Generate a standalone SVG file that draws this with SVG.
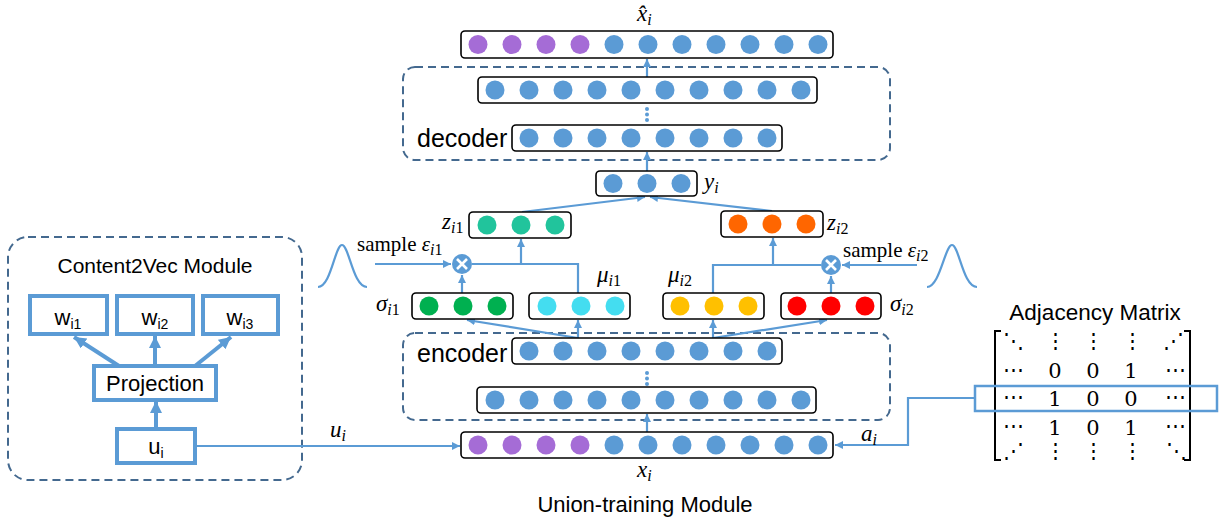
<svg xmlns="http://www.w3.org/2000/svg" width="1225" height="519" viewBox="0 0 1225 519">
<defs>
<style>
.row{fill:#fff;stroke:#000;stroke-width:1.6}
.b{fill:#5B9BD5}.p{fill:#A56CD6}.t{fill:#21C49C}.g{fill:#00B050}.c{fill:#44DDF0}.y{fill:#FFC000}.r{fill:#FF0000}.o{fill:#FF6600}
.dash{fill:none;stroke:#44698F;stroke-width:2;stroke-dasharray:8 5}
.conn{fill:none;stroke:#5B9BD5;stroke-width:2.2}
.thick{fill:none;stroke:#5B9BD5;stroke-width:4}
.cbox{fill:#fff;stroke:#5B9BD5;stroke-width:4}
.sans{font-family:"Liberation Sans",Arial,sans-serif;fill:#000}
.math{font-family:"Liberation Serif","DejaVu Serif",serif;font-style:italic;font-size:23px;fill:#000}
.ser{font-family:"Liberation Serif","DejaVu Serif",serif;font-size:21px;fill:#000}
.mx{font-family:"DejaVu Serif","Liberation Serif",serif;font-size:21px;fill:#000;text-anchor:middle}
.sub{font-size:16px}
.up{font-style:normal}
</style>
<marker id="a" markerUnits="userSpaceOnUse" markerWidth="9" markerHeight="9" refX="8" refY="4" orient="auto"><path d="M0,0 L8,4 L0,8 z" fill="#5B9BD5"/></marker>
<marker id="A" markerUnits="userSpaceOnUse" markerWidth="13" markerHeight="13" refX="12" refY="6" orient="auto"><path d="M0,0 L12,6 L0,12 z" fill="#5B9BD5"/></marker>
</defs>
<rect width="1225" height="519" fill="#fff"/>

<!-- module frames -->
<g id="decoder">
<rect class="dash" x="403" y="67" width="487" height="93" rx="12"/>
<text class="sans" x="417" y="147" font-size="25">decoder</text>
</g>
<g id="encoder">
<rect class="dash" x="403" y="333" width="487" height="87" rx="12"/>
<text class="sans" x="417" y="362" font-size="25">encoder</text>
</g>
<g id="content2vec">
<rect class="dash" x="8" y="237" width="294" height="243" rx="20"/>
<text class="sans" x="155" y="273" font-size="21" text-anchor="middle">Content2Vec Module</text>
</g>

<!-- connectors -->
<g id="connectors">
<line class="conn" x1="647" y1="77" x2="647" y2="59" marker-end="url(#a)"/>
<line class="conn" x1="647" y1="171" x2="647" y2="152" marker-end="url(#a)"/>
<line class="conn" x1="522" y1="212" x2="645" y2="197" marker-end="url(#a)"/>
<line class="conn" x1="772" y1="211" x2="650" y2="197" marker-end="url(#a)"/>
<line class="conn" x1="462" y1="293" x2="462" y2="275" marker-end="url(#a)"/>
<line class="conn" x1="375" y1="264" x2="451" y2="264" marker-end="url(#a)"/>
<path class="conn" d="M472,264 H578 V293"/>
<line class="conn" x1="521" y1="264" x2="521" y2="239" marker-end="url(#a)"/>
<line class="conn" x1="831" y1="293" x2="831" y2="276" marker-end="url(#a)"/>
<line class="conn" x1="917" y1="265" x2="842" y2="265" marker-end="url(#a)"/>
<path class="conn" d="M821,265 H713 V293"/>
<line class="conn" x1="773" y1="265" x2="773" y2="238" marker-end="url(#a)"/>
<line class="conn" x1="578" y1="338" x2="467" y2="320" marker-end="url(#a)"/>
<line class="conn" x1="578" y1="338" x2="578" y2="320" marker-end="url(#a)"/>
<line class="conn" x1="713" y1="338" x2="713" y2="320" marker-end="url(#a)"/>
<line class="conn" x1="713" y1="338" x2="827" y2="320" marker-end="url(#a)"/>
<line class="conn" x1="647" y1="432" x2="647" y2="414" marker-end="url(#a)"/>
<line class="conn" x1="195" y1="446" x2="460" y2="446" marker-end="url(#a)"/>
<path class="conn" d="M975,398 H908 V445 H835" marker-end="url(#a)"/>
<line class="thick" x1="119" y1="366" x2="74" y2="337" marker-end="url(#A)"/>
<line class="thick" x1="155" y1="366" x2="155" y2="336" marker-end="url(#A)"/>
<line class="thick" x1="195" y1="366" x2="231" y2="337" marker-end="url(#A)"/>
<line class="thick" x1="156" y1="429" x2="156" y2="401" marker-end="url(#A)"/>
<g fill="#5B9BD5">
<circle cx="647" cy="109" r="2"/><circle cx="647" cy="114.5" r="2"/><circle cx="647" cy="120" r="2"/>
<circle cx="647" cy="373" r="2"/><circle cx="647" cy="378.5" r="2"/><circle cx="647" cy="384" r="2"/>
</g>
<path class="conn" d="M318,287 C331,287 335,245 342,245 C349,245 353,287 367,287"/>
<path class="conn" d="M927,287 C940,287 945,245 952,245 C959,245 963,287 977,287"/>
</g>

<!-- rows -->
<g id="xhat">
<rect class="row" x="461" y="31" width="372" height="27" rx="4"/>
<circle class="p" cx="478" cy="44.5" r="9.5"/><circle class="p" cx="512" cy="44.5" r="9.5"/><circle class="p" cx="546" cy="44.5" r="9.5"/><circle class="p" cx="580" cy="44.5" r="9.5"/>
<circle class="b" cx="614" cy="44.5" r="9.5"/><circle class="b" cx="648" cy="44.5" r="9.5"/><circle class="b" cx="682" cy="44.5" r="9.5"/><circle class="b" cx="716" cy="44.5" r="9.5"/><circle class="b" cx="750" cy="44.5" r="9.5"/><circle class="b" cx="784" cy="44.5" r="9.5"/><circle class="b" cx="818" cy="44.5" r="9.5"/>
<text class="math" x="637" y="21">x̂<tspan class="sub" dy="4">i</tspan></text>
</g>
<g id="dec1">
<rect class="row" x="478" y="77" width="339" height="26" rx="4"/>
<circle class="b" cx="495" cy="90" r="9.5"/><circle class="b" cx="529" cy="90" r="9.5"/><circle class="b" cx="563" cy="90" r="9.5"/><circle class="b" cx="597" cy="90" r="9.5"/><circle class="b" cx="631" cy="90" r="9.5"/><circle class="b" cx="665" cy="90" r="9.5"/><circle class="b" cx="699" cy="90" r="9.5"/><circle class="b" cx="733" cy="90" r="9.5"/><circle class="b" cx="767" cy="90" r="9.5"/><circle class="b" cx="801" cy="90" r="9.5"/>
</g>
<g id="dec2">
<rect class="row" x="512" y="125" width="270" height="26" rx="4"/>
<circle class="b" cx="529" cy="138" r="9.5"/><circle class="b" cx="563" cy="138" r="9.5"/><circle class="b" cx="597" cy="138" r="9.5"/><circle class="b" cx="631" cy="138" r="9.5"/><circle class="b" cx="665" cy="138" r="9.5"/><circle class="b" cx="699" cy="138" r="9.5"/><circle class="b" cx="733" cy="138" r="9.5"/><circle class="b" cx="767" cy="138" r="9.5"/>
</g>
<g id="yi">
<rect class="row" x="596" y="171" width="101" height="25" rx="4"/>
<circle class="b" cx="613" cy="183.5" r="9.5"/><circle class="b" cx="647" cy="183.5" r="9.5"/><circle class="b" cx="681" cy="183.5" r="9.5"/>
<text class="math" x="704" y="189">y<tspan class="sub" dy="4">i</tspan></text>
</g>
<g id="zi1">
<rect class="row" x="469" y="212" width="102" height="26" rx="4"/>
<circle class="t" cx="487" cy="225" r="9.5"/><circle class="t" cx="521" cy="225" r="9.5"/><circle class="t" cx="555" cy="225" r="9.5"/>
<text class="math" x="442" y="229">z<tspan class="sub" dy="4">i<tspan class="up">1</tspan></tspan></text>
</g>
<g id="zi2">
<rect class="row" x="721" y="211" width="102" height="26" rx="4"/>
<circle class="o" cx="738" cy="224" r="9.5"/><circle class="o" cx="772" cy="224" r="9.5"/><circle class="o" cx="806" cy="224" r="9.5"/>
<text class="math" x="827" y="230">z<tspan class="sub" dy="4">i<tspan class="up">2</tspan></tspan></text>
</g>
<g id="mult1">
<circle class="b" cx="462" cy="264" r="10"/>
<path d="M457,259 L467,269 M467,259 L457,269" stroke="#fff" stroke-width="2.6"/>
<text class="ser" x="357" y="251">sample <tspan font-style="italic">ε</tspan><tspan class="sub" font-style="italic" dy="4">i</tspan><tspan class="sub">1</tspan></text>
</g>
<g id="mult2">
<circle class="b" cx="831" cy="265" r="10"/>
<path d="M826,260 L836,270 M836,260 L826,270" stroke="#fff" stroke-width="2.6"/>
<text class="ser" x="843" y="257">sample <tspan font-style="italic">ε</tspan><tspan class="sub" font-style="italic" dy="4">i</tspan><tspan class="sub">2</tspan></text>
</g>
<g id="sig1">
<rect class="row" x="412" y="293" width="101" height="26" rx="4"/>
<circle class="g" cx="429" cy="306" r="9.5"/><circle class="g" cx="463" cy="306" r="9.5"/><circle class="g" cx="497" cy="306" r="9.5"/>
<text class="math" x="376" y="311">σ<tspan class="sub" dy="4">i<tspan class="up">1</tspan></tspan></text>
</g>
<g id="mu1">
<rect class="row" x="529" y="293" width="101" height="26" rx="4"/>
<circle class="c" cx="547" cy="306" r="9.5"/><circle class="c" cx="581" cy="306" r="9.5"/><circle class="c" cx="615" cy="306" r="9.5"/>
<text class="math" x="597" y="282">μ<tspan class="sub" dy="4">i<tspan class="up">1</tspan></tspan></text>
</g>
<g id="mu2">
<rect class="row" x="663" y="293" width="101" height="26" rx="4"/>
<circle class="y" cx="680" cy="306" r="9.5"/><circle class="y" cx="714" cy="306" r="9.5"/><circle class="y" cx="748" cy="306" r="9.5"/>
<text class="math" x="668" y="282">μ<tspan class="sub" dy="4">i<tspan class="up">2</tspan></tspan></text>
</g>
<g id="sig2">
<rect class="row" x="781" y="293" width="100" height="26" rx="4"/>
<circle class="r" cx="797" cy="306" r="9.5"/><circle class="r" cx="831" cy="306" r="9.5"/><circle class="r" cx="865" cy="306" r="9.5"/>
<text class="math" x="890" y="311">σ<tspan class="sub" dy="4">i<tspan class="up">2</tspan></tspan></text>
</g>
<g id="enc1">
<rect class="row" x="512" y="338" width="270" height="26" rx="4"/>
<circle class="b" cx="529" cy="351" r="9.5"/><circle class="b" cx="563" cy="351" r="9.5"/><circle class="b" cx="597" cy="351" r="9.5"/><circle class="b" cx="631" cy="351" r="9.5"/><circle class="b" cx="665" cy="351" r="9.5"/><circle class="b" cx="699" cy="351" r="9.5"/><circle class="b" cx="733" cy="351" r="9.5"/><circle class="b" cx="767" cy="351" r="9.5"/>
</g>
<g id="enc2">
<rect class="row" x="477" y="387" width="339" height="26" rx="4"/>
<circle class="b" cx="495" cy="400" r="9.5"/><circle class="b" cx="529" cy="400" r="9.5"/><circle class="b" cx="563" cy="400" r="9.5"/><circle class="b" cx="597" cy="400" r="9.5"/><circle class="b" cx="631" cy="400" r="9.5"/><circle class="b" cx="665" cy="400" r="9.5"/><circle class="b" cx="699" cy="400" r="9.5"/><circle class="b" cx="733" cy="400" r="9.5"/><circle class="b" cx="767" cy="400" r="9.5"/><circle class="b" cx="801" cy="400" r="9.5"/>
</g>
<g id="xi">
<rect class="row" x="461" y="432" width="372" height="26" rx="4"/>
<circle class="p" cx="478" cy="445" r="9.5"/><circle class="p" cx="512" cy="445" r="9.5"/><circle class="p" cx="546" cy="445" r="9.5"/><circle class="p" cx="580" cy="445" r="9.5"/>
<circle class="b" cx="614" cy="445" r="9.5"/><circle class="b" cx="648" cy="445" r="9.5"/><circle class="b" cx="682" cy="445" r="9.5"/><circle class="b" cx="716" cy="445" r="9.5"/><circle class="b" cx="750" cy="445" r="9.5"/><circle class="b" cx="784" cy="445" r="9.5"/><circle class="b" cx="818" cy="445" r="9.5"/>
<text class="math" x="637" y="477">x<tspan class="sub" dy="4">i</tspan></text>
</g>
<g id="labels">
<text class="math" x="330" y="437">u<tspan class="sub" dy="4">i</tspan></text>
<text class="math" x="861" y="441">a<tspan class="sub" dy="4">i</tspan></text>
<text class="sans" x="645" y="512" font-size="22" text-anchor="middle">Union-training Module</text>
</g>

<!-- Content2Vec nodes -->
<g id="wi1"><rect class="cbox" x="30" y="296" width="77" height="38"/><text class="sans" x="68" y="325" font-size="22" text-anchor="middle">w<tspan font-size="14" dy="4">i1</tspan></text></g>
<g id="wi2"><rect class="cbox" x="117" y="296" width="76" height="38"/><text class="sans" x="155" y="325" font-size="22" text-anchor="middle">w<tspan font-size="14" dy="4">i2</tspan></text></g>
<g id="wi3"><rect class="cbox" x="203" y="296" width="75" height="38"/><text class="sans" x="240" y="325" font-size="22" text-anchor="middle">w<tspan font-size="14" dy="4">i3</tspan></text></g>
<g id="projection"><rect class="cbox" x="94" y="366" width="122" height="34"/><text class="sans" x="155" y="391" font-size="22" text-anchor="middle">Projection</text></g>
<g id="ui"><rect class="cbox" x="117" y="429" width="78" height="34"/><text class="sans" x="156" y="454" font-size="22" text-anchor="middle">u<tspan font-size="14" dy="4">i</tspan></text></g>

<!-- Adjacency matrix -->
<g id="adjacency">
<text class="sans" x="1095" y="320" font-size="22.5" text-anchor="middle">Adjacency Matrix</text>
<path d="M1001,331 H995 V460 H1001 M1184,331 H1190 V460 H1184" fill="none" stroke="#000" stroke-width="2"/>
<g class="mx" dominant-baseline="central">
<text x="1013" y="341">⋱</text><text x="1055" y="341">⋮</text><text x="1093" y="341">⋮</text><text x="1132" y="341">⋮</text><text x="1173" y="341">⋰</text>
<text x="1013" y="370">⋯</text><text x="1175" y="370">⋯</text>
<text x="1013" y="397">⋯</text><text x="1175" y="397">⋯</text>
<text x="1013" y="426">⋯</text><text x="1175" y="426">⋯</text>
<text x="1013" y="451">⋰</text><text x="1055" y="451">⋮</text><text x="1093" y="451">⋮</text><text x="1132" y="451">⋮</text><text x="1176" y="451">⋱</text>
</g>
<g class="mx">
<text x="1055" y="378">0</text><text x="1093" y="378">0</text><text x="1131" y="378">1</text>
<text x="1055" y="406">1</text><text x="1093" y="406">0</text><text x="1131" y="406">0</text>
<text x="1055" y="435">1</text><text x="1093" y="435">0</text><text x="1131" y="435">1</text>
</g>
<rect x="975" y="386" width="242" height="25" fill="none" stroke="#5B9BD5" stroke-width="2.5"/>
</g>
</svg>
